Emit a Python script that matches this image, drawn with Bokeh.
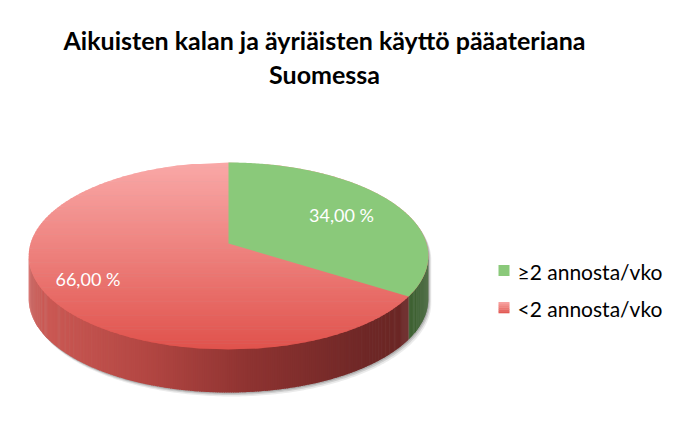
import numpy as np
from bokeh.plotting import figure
from bokeh.models import Range1d, ColumnDataSource
from bokeh.embed import file_html
from bokeh.resources import INLINE
from bokeh.core.properties import value

# ---------------- data ----------------
title_lines = ["Aikuisten kalan ja äyriäisten käyttö pääateriana", "Suomessa"]
categories = ["≥2 annosta/vko", "<2 annosta/vko"]
shares = [34.00, 66.00]
slice_labels = ["34,00 %", "66,00 %"]

# ---------------- styles / layout ----------------
FONT = "Lato"
top_color_green = "#8AC97A"
side_color_green = "#3E6233"
red_top_stops = [(0.0, (249, 168, 167)), (0.5, (237, 127, 123)), (1.0, (224, 82, 76))]
red_side_stops = [(0.0, (207, 92, 87)), (0.3, (178, 70, 66)), (0.55, (142, 51, 49)),
                  (0.85, (110, 39, 38)), (1.0, (105, 38, 36))]

CX, AY = 228.0, 243.0      # pie apex (screen px)
R, B, K = 198.0, 91.83, 0.1337   # horizontal radius, vertical scale, perspective
DEPTH = 43.0
label_frac = [0.68, 0.77]


def proj(theta, f=1.0):
    z = f * np.cos(theta)
    w = 1.0 + K * z
    x = CX + R * f * np.sin(theta) / w
    y = AY - B * z / w
    return x, y


def interp_color(stops, t):
    t = min(max(t, 0.0), 1.0)
    for (t0, c0), (t1, c1) in zip(stops[:-1], stops[1:]):
        if t0 <= t <= t1:
            u = (t - t0) / (t1 - t0) if t1 > t0 else 0
            c = [int(round(a + (b - a) * u)) for a, b in zip(c0, c1)]
            return "#%02x%02x%02x" % tuple(c)
    c = stops[-1][1]
    return "#%02x%02x%02x" % c


p = figure(width=674, height=414, output_backend="svg", toolbar_location=None,
           x_range=Range1d(0, 674), y_range=Range1d(414, 0),
           x_axis_location=None, y_axis_location=None, min_border=0)
p.grid.visible = False
p.outline_line_color = None
p.background_fill_color = "white"
p.border_fill_color = "white"

# angles (clockwise from top)
fr = np.array(shares) / np.sum(shares)
ends = np.cumsum(fr) * 2 * np.pi
starts = ends - fr * 2 * np.pi

th_r = np.arccos(-K)
th_l = 2 * np.pi - th_r

# ---------------- shadow ----------------
tt = np.linspace(th_r, th_l, 200)
bx, by = proj(tt)
ut = np.linspace(th_l, th_r + 2 * np.pi, 200)
ux, uy = proj(ut)
sil_x = np.concatenate([bx, ux])
sil_y = np.concatenate([by + DEPTH, uy])
for dx, dy, a in [(3, 4, 0.08), (2, 2.5, 0.12), (1, 1.2, 0.15)]:
    p.patch(sil_x + dx, sil_y + dy, fill_color="black", fill_alpha=a, line_color=None)

# ---------------- side wall ----------------
xs_side, ys_side, cs_side = [], [], []
xmin, xmax = CX - R * 1.01, CX + R * 1.01
for i in range(len(shares)):
    a0 = max(starts[i], th_r)
    a1 = min(ends[i], th_l)
    if a1 <= a0:
        continue
    n = max(int((a1 - a0) / 0.01), 2)
    grid = np.linspace(a0, a1, n + 1)
    for j in range(n):
        g0, g1 = grid[j], min(grid[j + 1] + 0.004, a1)
        x0, y0 = proj(g0)
        x1, y1 = proj(g1)
        xs_side.append([x0, x1, x1, x0])
        ys_side.append([y0 - 1, y1 - 1, y1 + DEPTH, y0 + DEPTH])
        if i == 0:
            cs_side.append(side_color_green)
        else:
            t = ((x0 + x1) / 2 - xmin) / (xmax - xmin)
            cs_side.append(interp_color(red_side_stops, t))
p.patches(xs="xs", ys="ys", fill_color="c", line_color=None,
          source=ColumnDataSource(dict(xs=xs_side, ys=ys_side, c=cs_side)))

# ---------------- top face (red gradient over whole ellipse) ----------------
th = np.linspace(0, np.pi, 600)
ex, ey = proj(th)
ytop, ybot = ey[0], ey[-1]
N = 120
yb = np.linspace(ytop, ybot, N + 1)
xr = np.interp(yb, ey, ex)
xl = 2 * CX - xr
xs_top, ys_top, cs_top = [], [], []
for j in range(N):
    y0, y1 = yb[j], min(yb[j + 1] + 0.6, ybot)
    x_r1 = np.interp(y1, ey, ex)
    x_l1 = 2 * CX - x_r1
    xs_top.append([xl[j], xr[j], x_r1, x_l1])
    ys_top.append([y0, y0, y1, y1])
    cs_top.append(interp_color(red_top_stops, (j + 0.5) / N))
p.patches(xs="xs", ys="ys", fill_color="c", line_color=None,
          source=ColumnDataSource(dict(xs=xs_top, ys=ys_top, c=cs_top)))

# green slice on top
ga = np.linspace(starts[0], ends[0], 200)
gx, gy = proj(ga)
p.patch(np.concatenate([[CX], gx]), np.concatenate([[AY], gy]),
        fill_color=top_color_green, line_color=None)

# ---------------- slice labels ----------------
mids = (starts + ends) / 2
lx, ly = [], []
for m, f in zip(mids, label_frac):
    x, y = proj(m, f)
    lx.append(x)
    ly.append(y)
p.text(x=lx, y=ly, text=slice_labels, text_color="white", text_font=value(FONT),
       text_font_size="18px", text_align="center", text_baseline="middle")

# ---------------- title ----------------
p.text(x=[324, 324], y=[39, 73], text=title_lines, text_font=value(FONT),
       text_font_style="bold", text_font_size="25px", text_color="black",
       text_align="center", text_baseline="alphabetic")

# ---------------- legend ----------------
leg_y = [270, 307]
p.quad(left=[498], right=[509], top=[leg_y[0] - 5.5], bottom=[leg_y[0] + 5.5],
       fill_color=top_color_green, line_color=None)
nb = 6
for k in range(nb):
    p.quad(left=[498], right=[509], top=[leg_y[1] - 5.5 + 11 * k / nb],
           bottom=[leg_y[1] - 5.5 + 11 * (k + 1) / nb + 0.3],
           fill_color=interp_color(red_top_stops, (k + 0.5) / nb), line_color=None)
p.text(x=[517, 517], y=[y + 1 for y in leg_y], text=categories, text_font=value(FONT),
       text_font_size="21px", text_color="black", text_align="left",
       text_baseline="middle")

open("out.html", "w").write(file_html(p, INLINE))
